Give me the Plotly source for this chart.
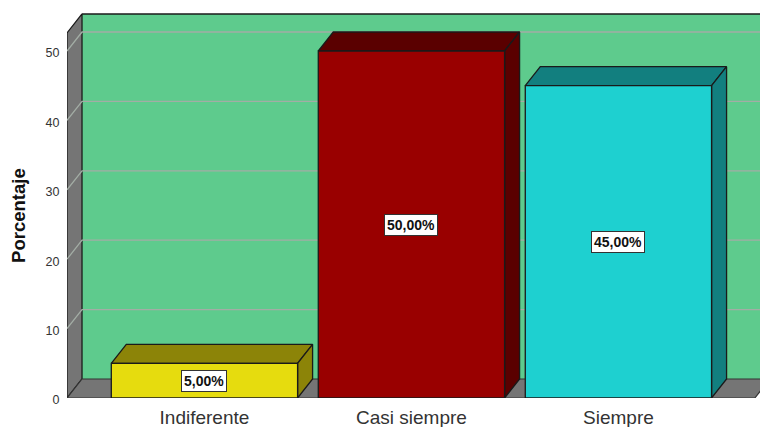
import plotly.graph_objects as go

categories = ["Indiferente", "Casi siempre", "Siempre"]
values = [5, 50, 45]
labels = ["5,00%", "50,00%", "45,00%"]
y_ticks = [0, 10, 20, 30, 40, 50]

front_colors = ["#E6DC0E", "#990000", "#1ED0D0"]
shade_colors = ["#8C8408", "#5A0000", "#127F7F"]
WALL = "#5ECB8D"
FRAME = "#757575"
GRID = "#A3ADA5"
EDGE = "#1A1A1A"

# Extrusion of the pseudo-3D box, in axis units
DX = 0.0725
DY = 2.74
BAR_HALF = 0.45
X_LO, X_HI = -0.664, 2.684
FLOOR_RIGHT = 2.659
Y_TOP = 52.6
Y_MAX = 57.35


def poly(xs, ys, fill, line=EDGE, width=1.3):
    return go.Scatter(
        x=xs + xs[:1], y=ys + ys[:1], mode="lines", fill="toself", fillcolor=fill,
        line=dict(color=line, width=width), hoverinfo="skip", showlegend=False,
    )


fig = go.Figure()

# Back wall, side wall and floor of the chart box
fig.add_trace(poly([X_LO + DX, X_HI + 1, X_HI + 1, X_LO + DX],
                   [DY, DY, Y_TOP + DY, Y_TOP + DY], WALL, line=WALL, width=0))
fig.add_trace(poly([X_LO, X_LO + DX, X_LO + DX, X_LO],
                   [0, DY, Y_TOP + DY, Y_TOP], FRAME))
fig.add_trace(go.Scatter(
    x=[X_LO, X_LO + DX, FLOOR_RIGHT + DX, FLOOR_RIGHT, X_LO], y=[0, DY, DY, 0, 0],
    mode="lines", fill="toself", fillcolor=FRAME, line=dict(color="#333333", width=1.2),
    hoverinfo="skip", showlegend=False,
))

# Top edge of the back wall
fig.add_trace(go.Scatter(x=[X_LO + DX, X_HI + 1], y=[Y_TOP + DY] * 2, mode="lines",
                         line=dict(color=EDGE, width=1.6), hoverinfo="skip", showlegend=False))

# Gridlines fold from the side wall onto the back wall
for t in y_ticks[1:]:
    fig.add_trace(go.Scatter(x=[X_LO, X_LO + DX, X_HI + 1], y=[t, t + DY, t + DY], mode="lines",
                             line=dict(color=GRID, width=1.3), hoverinfo="skip", showlegend=False))

# Bars: roof, right side, then front face
for i, v in enumerate(values):
    l, r = i - BAR_HALF, i + BAR_HALF
    fig.add_trace(poly([l, l + DX, r + DX, r], [v, v + DY, v + DY, v], shade_colors[i]))
    fig.add_trace(poly([r, r + DX, r + DX, r], [0, DY, v + DY, v], shade_colors[i]))
    fig.add_trace(poly([l, r, r, l], [0, 0, v, v], front_colors[i]))

# Value labels centred on the front faces
for i, v in enumerate(values):
    fig.add_annotation(
        x=i, y=v / 2, text=f"<b>{labels[i]}</b>", showarrow=False,
        font=dict(family="Liberation Sans, Arial, sans-serif", size=14, color="#111111"),
        bgcolor="white", bordercolor="#333333", borderwidth=1, borderpad=2,
    )

# Vertical axis title, centred on the chart box rather than the plot area
fig.add_annotation(
    xref="paper", yref="paper", x=-0.0693, y=0.46, xanchor="center", yanchor="middle",
    text="<b>Porcentaje</b>", textangle=-90, showarrow=False,
    font=dict(family="Liberation Sans, Arial, sans-serif", size=18.5, color="#111111"),
)

fig.update_layout(
    width=760, height=427, autosize=False,
    margin=dict(l=67, r=0, t=0, b=29),
    paper_bgcolor="white", plot_bgcolor="white", showlegend=False,
    font=dict(family="Liberation Sans, Arial, sans-serif"),
    xaxis=dict(
        range=[X_LO, X_HI], tickmode="array", tickvals=[0, 1, 2], ticktext=categories,
        showgrid=False, zeroline=False, showline=False,
        ticks="outside", ticklen=2, tickcolor="rgba(0,0,0,0)",
        tickfont=dict(size=19, color="#333333"), automargin=False,
    ),
    yaxis=dict(
        range=[0, Y_MAX], tickmode="array", tickvals=y_ticks,
        showgrid=False, zeroline=False, showline=False,
        ticks="outside", ticklen=4, tickcolor="rgba(0,0,0,0)",
        tickfont=dict(size=12.5, color="#333333"), automargin=False,
        ticklabelshift=2,
    ),
)

fig.write_html("out.html")
